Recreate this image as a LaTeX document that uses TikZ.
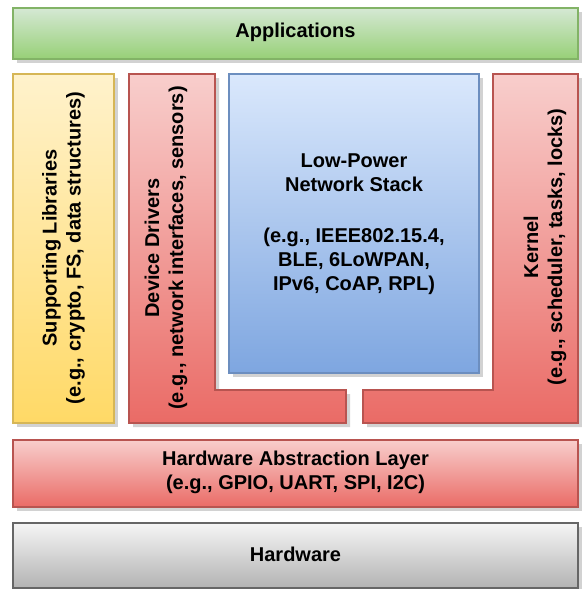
\documentclass[tikz,border=0pt]{standalone}
\usepackage{fontspec}
\setmainfont{Liberation Sans}
\definecolor{greenT}{HTML}{D5E8D4}\definecolor{greenB}{HTML}{97D077}\definecolor{greenS}{HTML}{82B366}
\definecolor{yelT}{HTML}{FFF2CC}\definecolor{yelB}{HTML}{FFD966}\definecolor{yelS}{HTML}{D6B656}
\definecolor{redT}{HTML}{F8CECC}\definecolor{redB}{HTML}{EA6B66}\definecolor{redS}{HTML}{B85450}
\definecolor{bluT}{HTML}{DAE8FC}\definecolor{bluB}{HTML}{7EA6E0}\definecolor{bluS}{HTML}{6C8EBF}
\definecolor{gryT}{HTML}{F5F5F5}\definecolor{gryB}{HTML}{B3B3B3}\definecolor{gryS}{HTML}{666666}
\definecolor{shadowgray}{HTML}{D2D2D2}
\begin{document}
\begin{tikzpicture}[x=1pt,y=-1pt,
  boxline/.style={line width=1.2pt},
  shad/.style={fill=shadowgray, draw=none, shift={(4,4)}},
  greenbox/.style={boxline, top color=greenT, bottom color=greenB, draw=greenS},
  yelbox/.style={boxline, top color=yelT, bottom color=yelB, draw=yelS},
  redbox/.style={boxline, top color=redT, bottom color=redB, draw=redS},
  blubox/.style={boxline, top color=bluT, bottom color=bluB, draw=bluS},
  grybox/.style={boxline, top color=gryT, bottom color=gryB, draw=gryS},
  lbl/.style={font=\bfseries\fontsize{20}{24}\selectfont, align=center, text=black, inner sep=0pt},
]
\useasboundingbox (0,0) rectangle (581,589);
% shadows
\fill[shad] (13,8) rectangle (578,59);
\fill[shad] (13,74) rectangle (114,423);
\fill[shad] (129,74) -- (215,74) -- (215,390) -- (346,390) -- (346,423) -- (129,423) -- cycle;
\fill[shad] (229,74) rectangle (479,373);
\fill[shad] (493,74) -- (578,74) -- (578,423) -- (363,423) -- (363,390) -- (493,390) -- cycle;
\fill[shad] (13,440) rectangle (578,507);
\fill[shad] (13,523) rectangle (578,588);
% shapes
\shade[greenbox] (13,8) rectangle (578,59);
\shade[yelbox] (13,74) rectangle (114,423);
\shade[redbox] (129,74) -- (215,74) -- (215,390) -- (346,390) -- (346,423) -- (129,423) -- cycle;
\shade[blubox] (229,74) rectangle (479,373);
\shade[redbox] (493,74) -- (578,74) -- (578,423) -- (363,423) -- (363,390) -- (493,390) -- cycle;
\shade[redbox] (13,440) rectangle (578,507);
\shade[grybox] (13,523) rectangle (578,588);
% labels
\node[lbl] (app) at (295.5,32) {Applications};
\node[lbl, rotate=90] (lib) at (63.5,248) {Supporting Libraries\\(e.g., crypto, FS, data structures)};
\node[lbl, rotate=90] (drv) at (166,248) {Device Drivers\\(e.g., network interfaces, sensors)};
\node[lbl] (net) at (354,224) {Low-Power\\Network Stack\\[27pt](e.g., IEEE802.15.4,\\BLE, 6LoWPAN,\\IPv6, CoAP, RPL)};
\node[lbl, rotate=90] (ker) at (545,247) {Kernel\\(e.g., scheduler, tasks, locks)};
\node[lbl] (hal) at (295.5,472) {Hardware Abstraction Layer\\(e.g., GPIO, UART, SPI, I2C)};
\node[lbl] (hw) at (295.5,554) {Hardware};
\end{tikzpicture}
\end{document}
